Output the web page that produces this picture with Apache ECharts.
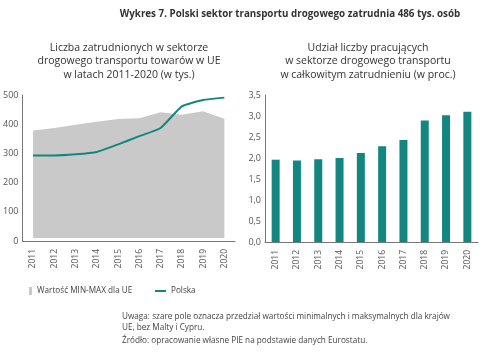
<!DOCTYPE html>
<html><head><meta charset="utf-8">
<script src="https://cdn.jsdelivr.net/npm/echarts@6/dist/echarts.min.js"></script>
<style>html,body{margin:0;padding:0;background:#fff}#c{width:483px;height:357px}</style>
</head><body><div id="c"></div>
<script>
var years = ['2011','2012','2013','2014','2015','2016','2017','2018','2019','2020'];
var euMin = [10, 10, 10, 10, 10, 10, 10, 10, 10, 10];
var euMax = [378, 387, 398, 408, 418, 420, 441, 432, 444, 419];
var polska = [293, 293, 297, 305, 331, 359, 387, 461, 483, 491];
var share = [1.96, 1.94, 1.97, 2.0, 2.12, 2.28, 2.43, 2.89, 3.02, 3.10];

var teal = '#13877f';
var gray = '#c9c9c9';
var F = 'Open Sans';
var range = euMax.map(function(v,i){return v - euMin[i];});

var chart = echarts.init(document.getElementById('c'), null, {renderer:'canvas'});
var axisLine = {show:true, lineStyle:{color:'#777', width:1}};
chart.setOption({
  animation:false,
  textStyle:{fontFamily:F},
  title:[
    {text:'Wykres 7. Polski sektor transportu drogowego zatrudnia 486 tys. osób', left:285, top:4, textAlign:'center',
     textStyle:{fontFamily:F, fontSize:9.8, fontWeight:'bold', color:'#333'}},
    {text:'Liczba zatrudnionych w sektorze\ndrogowego transportu towarów w UE\nw latach 2011-2020 (w tys.)', left:124, top:36, textAlign:'center',
     textStyle:{fontFamily:F, fontSize:10.5, fontWeight:'normal', color:'#333', lineHeight:13.5}},
    {text:'Udział liczby pracujących\nw sektorze drogowego transportu\nw całkowitym zatrudnieniu (w proc.)', left:363, top:36, textAlign:'center',
     textStyle:{fontFamily:F, fontSize:10.5, fontWeight:'normal', color:'#333', lineHeight:13.5}},
    {text:'Uwaga: szare pole oznacza przedział wartości minimalnych i maksymalnych dla krajów\nUE, bez Malty i Cypru.', left:117, top:306,
     textStyle:{fontFamily:F, fontSize:8.2, fontWeight:'normal', color:'#444', lineHeight:11}},
    {text:'Źródło: opracowanie własne PIE na podstawie danych Eurostatu.', left:117, top:332,
     textStyle:{fontFamily:F, fontSize:8.2, fontWeight:'normal', color:'#444'}}
  ],
  legend:[
    {data:[{name:'Wartość MIN-MAX dla UE', icon:'rect'}], left:24, top:282, itemWidth:3, itemHeight:8, itemGap:5,
     textStyle:{fontFamily:F, fontSize:8.2, color:'#444'}},
    {data:[{name:'Polska', icon:'rect'}], left:150, top:282, itemWidth:11, itemHeight:2,
     textStyle:{fontFamily:F, fontSize:8.2, color:'#444'}}
  ],
  grid:[
    {left:22, right:248, top:95, bottom:116},
    {left:265, right:5, top:95, bottom:115}
  ],
  xAxis:[
    {type:'category', gridIndex:0, data:years, boundaryGap:true, axisLine:axisLine, axisTick:{show:false},
     axisLabel:{rotate:90, fontSize:8.5, color:'#555', margin:8, interval:0}},
    {type:'category', gridIndex:1, data:years, boundaryGap:true, axisLine:axisLine, axisTick:{show:false},
     axisLabel:{rotate:90, fontSize:8.5, color:'#555', margin:8, interval:0}}
  ],
  yAxis:[
    {type:'value', gridIndex:0, min:0, max:500, interval:100, axisLine:axisLine, axisTick:{show:false}, splitLine:{show:false},
     axisLabel:{fontSize:9, color:'#555', margin:4}},
    {type:'value', gridIndex:1, min:0, max:3.5, interval:0.5, axisLine:axisLine, axisTick:{show:false}, splitLine:{show:false},
     axisLabel:{fontSize:9, color:'#555', margin:4, formatter:function(v){return v.toFixed(1).replace('.',',');}}}
  ],
  series:[
    {name:'base', type:'line', xAxisIndex:0, yAxisIndex:0, stack:'r', data:euMin, symbol:'none',
     lineStyle:{opacity:0}, areaStyle:{opacity:0}, silent:true},
    {name:'Wartość MIN-MAX dla UE', type:'line', xAxisIndex:0, yAxisIndex:0, stack:'r', data:range, symbol:'none',
     itemStyle:{color:gray}, lineStyle:{opacity:0}, areaStyle:{color:gray, opacity:1}},
    {name:'Polska', type:'line', xAxisIndex:0, yAxisIndex:0, data:polska, symbol:'none', smooth:0.15,
     itemStyle:{color:teal}, lineStyle:{color:teal, width:2}, z:5},
    {name:'Udział', type:'bar', xAxisIndex:1, yAxisIndex:1, data:share, barWidth:8, itemStyle:{color:teal}}
  ]
});
</script></body></html>
